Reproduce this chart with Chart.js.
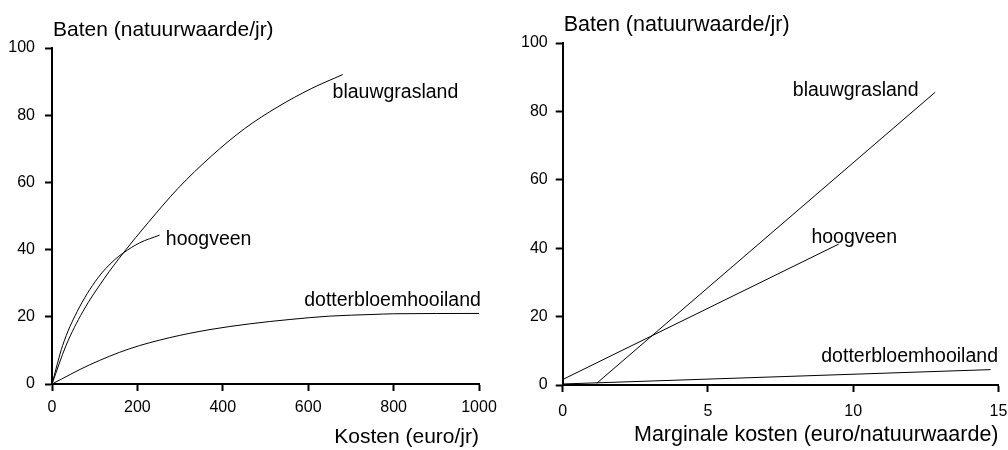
<!DOCTYPE html>
<html>
<head>
<meta charset="utf-8">
<script src="https://cdn.jsdelivr.net/npm/chart.js@4/dist/chart.umd.min.js"></script>
<style>
  html, body { margin: 0; padding: 0; background: #fff; }
  #wrap { position: relative; width: 1008px; height: 450px; }
  #c1 { position: absolute; left: 0; top: 0; }
  #c2 { position: absolute; left: 500px; top: 0; }
</style>
</head>
<body>
<div id="wrap">
  <canvas id="c1" width="500" height="450"></canvas>
  <canvas id="c2" width="508" height="450"></canvas>
</div>
<script>
// Kosten (euro/jr) tegen baten (natuurwaarde/jr) per natuurtype
const kostenBlauw = [0, 33, 72, 123, 167, 225, 295, 373, 451, 529, 607, 681];
const batenBlauw  = [0, 11.5, 21.5, 31.5, 39, 48.0, 58.2, 67.8, 76, 82.5, 87.9, 92.1];

const kostenHoog = [0, 25, 58.7, 107, 146, 167, 205, 252];
const batenHoog  = [0, 11.5, 21.5, 31.5, 36.9, 39, 42, 44.3];

const kostenDotter = [0, 88, 182, 276, 370, 463, 557, 650, 752, 800, 1000];
const batenDotter  = [0, 5.7, 10.5, 13.8, 16.2, 17.9, 19.2, 20.2, 20.7, 20.9, 21.0];

// Marginale kosten (euro/natuurwaarde) tegen baten
const margBlauw  = [1.17, 12.82];
const batenMargBlauw  = [0.5, 85.6];
const margHoog   = [0, 9.5];
const batenMargHoog   = [1.6, 41.2];
const margDotter = [0, 14.73];
const batenMargDotter = [0.3, 4.5];

// Ticks
const ticksKosten = [0, 200, 400, 600, 800, 1000];
const ticksMarg   = [0, 5, 10, 15];
const ticksBaten  = [0, 20, 40, 60, 80, 100];

const yTitle = 'Baten (natuurwaarde/jr)';
const xTitleLeft = 'Kosten (euro/jr)';
const xTitleRight = 'Marginale kosten (euro/natuurwaarde)';
const names = ['blauwgrasland', 'hoogveen', 'dotterbloemhooiland'];

const FONT = '"Liberation Sans", Arial, Helvetica, sans-serif';
Chart.defaults.font.family = FONT;
Chart.defaults.color = '#000';

const pts = (xs, ys) => xs.map((v, i) => ({ x: v, y: ys[i] }));

// Horizontal y-axis title above the axis and the series names next to the lines
const textPlugin = {
  id: 'textLabels',
  afterDatasetsDraw(chart, args, opts) {
    const { ctx, chartArea, scales } = chart;
    ctx.save();
    ctx.fillStyle = '#000';
    ctx.textAlign = 'left';
    ctx.textBaseline = 'alphabetic';
    ctx.font = opts.titleSize + 'px ' + FONT;
    ctx.fillText(opts.title, chartArea.left + 1, chartArea.top - 12);
    ctx.font = '19.5px ' + FONT;
    opts.labels.forEach(l => {
      ctx.fillText(l.text, scales.x.getPixelForValue(l.x), scales.y.getPixelForValue(l.y));
    });
    ctx.restore();
  }
};

function lineSet(data, curved) {
  return {
    data,
    borderColor: '#000',
    borderWidth: 1,
    pointRadius: 0,
    fill: false,
    cubicInterpolationMode: curved ? 'monotone' : 'default',
    tension: 0
  };
}

function axisOpts(tickValues, min, max, extra) {
  return Object.assign({
    type: 'linear',
    min, max,
    afterBuildTicks: axis => { axis.ticks = tickValues.map(v => ({ value: v })); },
    grid: { display: true, drawOnChartArea: false, drawTicks: true, tickLength: 7, tickWidth: 2, tickColor: '#000' },
    border: { display: true, color: '#000', width: 2 }
  }, extra);
}

function makeChart(canvas, datasets, cfg) {
  return new Chart(canvas, {
    type: 'line',
    data: { datasets },
    options: {
      responsive: false,
      animation: false,
      layout: { padding: cfg.padding },
      plugins: {
        legend: { display: false },
        tooltip: { enabled: false },
        textLabels: { title: yTitle, titleSize: cfg.yTitleSize, labels: cfg.labels }
      },
      scales: {
        x: axisOpts(cfg.xTicks, cfg.xMin, cfg.xMax, {
          // fixed axis band; the outer layout padding leaves room for the end labels
          afterFit: s => { s.height = cfg.xHeight; s.paddingLeft = 0; s.paddingRight = 0; },
          title: { display: true, text: cfg.xTitle, align: 'end', font: { size: cfg.xTitleSize }, color: '#000', padding: { top: 0, bottom: cfg.xTitlePad } },
          ticks: { font: { size: 16 }, color: '#000', padding: cfg.xTickPad, maxRotation: 0, callback: v => String(v) }
        }),
        y: axisOpts(ticksBaten, 0, 100, {
          afterFit: s => { s.width = cfg.yWidth; },
          ticks: { font: { size: 16 }, color: '#000', padding: cfg.yTickPad, callback: v => String(v) }
        })
      }
    },
    plugins: [textPlugin]
  });
}

makeChart(document.getElementById('c1'), [
  lineSet(pts(kostenBlauw, batenBlauw), true),
  lineSet(pts(kostenHoog, batenHoog), true),
  lineSet(pts(kostenDotter, batenDotter), true)
], {
  padding: { top: 48, right: 21, bottom: 0, left: 0 },
  xTicks: ticksKosten, xMin: 0, xMax: 1000,
  xHeight: 66, xTitle: xTitleLeft, xTitleSize: 21, xTitlePad: 0, xTickPad: 7, yWidth: 52, yTickPad: 10,
  yTitleSize: 21,
  labels: [
    { text: names[0], x: 657, y: 85.2 },
    { text: names[1], x: 266.5, y: 41.5 },
    { text: names[2], x: 590.6, y: 23.2 }
  ]
});

makeChart(document.getElementById('c2'), [
  lineSet(pts(margBlauw, batenMargBlauw), false),
  lineSet(pts(margHoog, batenMargHoog), false),
  lineSet(pts(margDotter, batenMargDotter), false)
], {
  padding: { top: 43, right: 9.5, bottom: 0, left: 0 },
  xTicks: ticksMarg, xMin: 0, xMax: 15,
  xHeight: 65, xTitle: xTitleRight, xTitleSize: 21.5, xTitlePad: 2, xTickPad: 10, yWidth: 62.7, yTickPad: 8,
  yTitleSize: 21.5,
  labels: [
    { text: names[0], x: 7.92, y: 84.4 },
    { text: names[1], x: 8.56, y: 41.5 },
    { text: names[2], x: 8.9, y: 6.8 }
  ]
});
</script>
</body>
</html>
